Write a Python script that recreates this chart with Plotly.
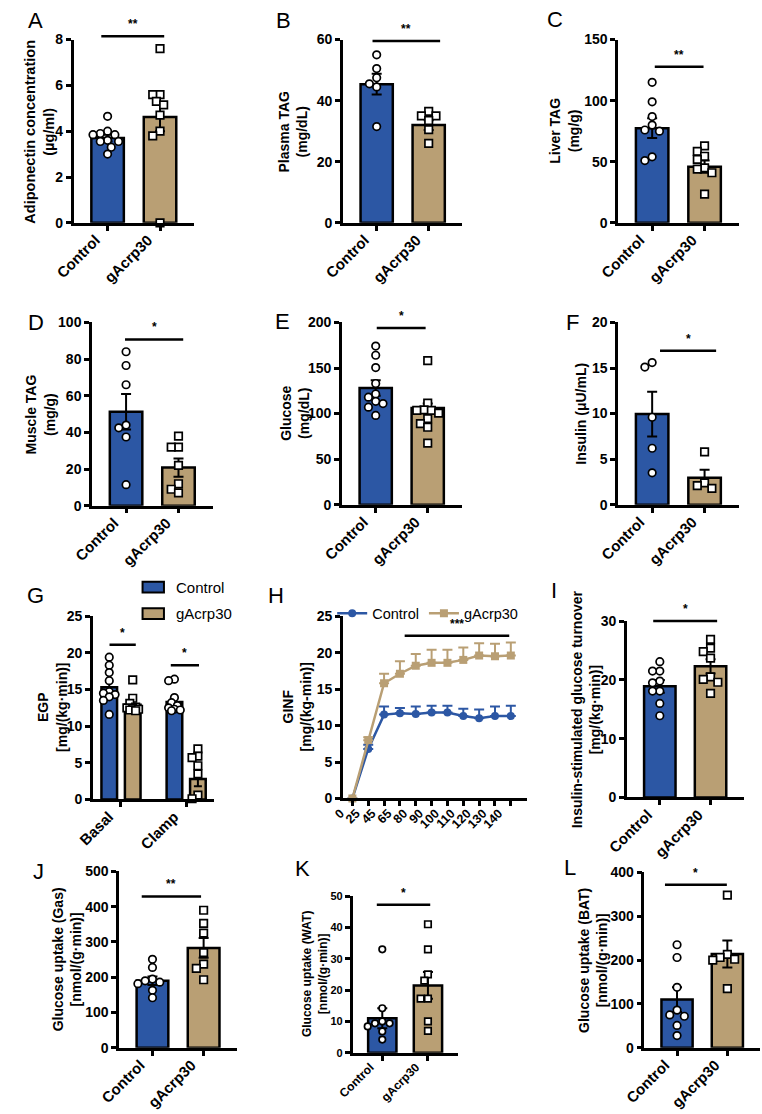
import plotly.graph_objects as go

W, H = 762, 1114
BLUE = "#2C57A4"
TAN = "#B99F74"
FONT = "Liberation Sans"

groups = ["Control", "gAcrp30"]

# A - adiponectin (ug/ml)
adipo_mean = [3.7, 4.62]
adipo_sem = [0.15, 0.62]
adipo_ctrl = [4.65, 4.0, 3.9, 3.85, 3.85, 3.6, 3.55, 3.55, 3.3, 3.0]
adipo_gacrp = [7.6, 5.6, 5.6, 5.3, 5.15, 4.7, 4.0, 3.8, 0.0]

# B - plasma TAG (mg/dL)
ptag_mean = [45.4, 32.0]
ptag_sem = [3.4, 1.6]
ptag_ctrl = [55, 50.5, 47.5, 45.5, 44.5, 31.5]
ptag_gacrp = [36.5, 35, 35, 33.5, 30.5, 26]

# C - liver TAG (mg/g)
ltag_mean = [77.5, 46.0]
ltag_sem = [8.0, 5.0]
ltag_ctrl = [115, 99, 87, 80, 76, 75, 54, 51]
ltag_gacrp = [63, 58.5, 54.5, 52, 45, 44, 41, 23.5]

# D - muscle TAG (mg/g)
mtag_mean = [51.3, 20.8]
mtag_sem = [9.7, 5.0]
mtag_ctrl = [84, 76.5, 66, 44, 42.5, 37.5, 11.5]
mtag_gacrp = [38, 32, 32, 22, 12, 9, 7]

# E - glucose (mg/dL)
glu_mean = [128.0, 106.0]
glu_sem = [8.5, 5.0]
glu_ctrl = [174, 164, 150.5, 133, 121.5, 118, 113.5, 111, 107, 98]
glu_gacrp = [158, 111.5, 104, 103.5, 103.5, 100.5, 94.5, 89, 85, 67.5]

# F - insulin (uU/mL)
ins_mean = [9.95, 2.95]
ins_sem = [2.45, 0.9]
ins_ctrl = [15.6, 15.1, 9.6, 6.2, 3.5]
ins_gacrp = [5.8, 2.4, 2.1, 1.8]

# G - EGP, basal / clamp
egp_phase = ["Basal", "Clamp"]
egp_mean_ctrl = [15.3, 13.3]
egp_sem_ctrl = [0.8, 0.5]
egp_mean_gacrp = [12.9, 2.8]
egp_sem_gacrp = [0.5, 1.0]
egp_basal_ctrl = [19.4, 18.3, 17.3, 16.2, 14.7, 14.5, 14.3, 14.0, 13.5, 11.6]
egp_basal_gacrp = [16.3, 13.8, 13.1, 12.6, 12.5, 12.4, 12.3, 12.2, 12.1]
egp_clamp_ctrl = [16.4, 16.2, 13.9, 13.2, 12.8, 12.5, 12.3, 12.2, 12.1]
egp_clamp_gacrp = [6.9, 5.9, 5.7, 4.6, 3.5, 0.6, 0.1]

# H - GINF time course
ginf_time = ["0", "25", "45", "65", "80", "90", "100", "110", "120", "130", "140"]
ginf_ctrl = [0, 6.8, 11.5, 11.7, 11.6, 11.8, 11.8, 11.3, 11.0, 11.3, 11.3]
ginf_ctrl_sem = [0, 0.55, 1.1, 0.7, 1.0, 0.9, 0.9, 1.0, 1.2, 1.3, 1.4]
ginf_gacrp = [0, 8.0, 15.8, 17.1, 18.2, 18.6, 18.6, 19.0, 19.6, 19.5, 19.6]
ginf_gacrp_sem = [0, 0.4, 1.3, 1.7, 1.6, 1.8, 1.8, 1.7, 1.7, 1.7, 1.8]

# I - insulin-stimulated glucose turnover
turn_mean = [18.9, 22.3]
turn_sem = [1.1, 1.2]
turn_ctrl = [23.1, 21.5, 21.5, 19.8, 19.5, 18.1, 18.1, 16.0, 13.9]
turn_gacrp = [26.9, 25.4, 24.8, 23.7, 20.5, 20.1, 19.6, 17.7]

# J - glucose uptake gastrocnemius
gas_mean = [190, 283]
gas_sem = [12, 28]
gas_ctrl = [251, 228, 195, 190, 186, 182, 163, 142]
gas_gacrp = [390, 353, 325, 270, 237, 225, 193]

# K - glucose uptake WAT
wat_mean = [11.0, 21.5]
wat_sem = [3.2, 4.3]
wat_ctrl = [33, 14.2, 10, 9.4, 9.4, 8.4, 6.8, 4.2]
wat_gacrp = [41, 33, 25, 23, 17.3, 17.3, 10, 7]

# L - glucose uptake BAT
bat_mean = [110, 214]
bat_sem = [28, 31]
bat_ctrl = [235, 206, 138, 86, 75, 72, 51, 28]
bat_gacrp = [348, 213, 206, 202, 200, 135]


def ax_names(n):
    s = "" if n == 1 else str(n)
    return "x" + s, "y" + s, "xaxis" + s, "yaxis" + s


def px_per_unit(p):
    x0, x1, yt, yb = p["box"]
    return (x1 - x0) / (p["xr"][1] - p["xr"][0]), (yb - yt) / (p["yr"][1] - p["yr"][0])


def to_paper(p, x, y):
    x0, x1, yt, yb = p["box"]
    fx = (x - p["xr"][0]) / (p["xr"][1] - p["xr"][0])
    fy = (y - p["yr"][0]) / (p["yr"][1] - p["yr"][0])
    return (x0 + fx * (x1 - x0)) / W, 1 - (yb - fy * (yb - yt)) / H


def swarm(values, center, p, diam=7.5, maxoff=20.0):
    # simple beeswarm: spread points sideways when they would overlap,
    # but never further than maxoff px from the centre (then accept overlap)
    kx, ky = px_per_unit(p)
    step = diam / 2
    offs = [0.0]
    k = 1
    while k * step <= maxoff:
        offs += [-k * step, k * step]
        k += 1
    placed = []
    xs = [center] * len(values)
    for i in sorted(range(len(values)), key=lambda j: -values[j]):
        y = values[i] * ky

        def gap(c):
            return min([((c - a) ** 2 + (y - b) ** 2) ** 0.5 for a, b in placed] or [1e9])

        ok = [c for c in offs if gap(c) >= diam * 0.97]
        best = ok[0] if ok else max(offs, key=gap)
        placed.append((best, y))
        xs[i] = center + best / kx
    return xs


BAR_XR = [-0.65, 1.65]
panels = [
    dict(key="A", box=(54, 178, 32, 218), yr=[0, 8], dtick=2, mean=adipo_mean, sem=adipo_sem,
         pts=(adipo_ctrl, adipo_gacrp), title="Adiponectin concentration<br>(µg/ml)", toff=35,
         sig=[(-0.12, 1.08, 8.14, "**")], letter=(15, 13), title_sz=14.5),
    dict(key="B", box=(331, 454, 32, 218), yr=[0, 60], dtick=20, mean=ptag_mean, sem=ptag_sem,
         pts=(ptag_ctrl, ptag_gacrp), title="Plasma TAG<br>(mg/dL)", toff=51,
         sig=[(-0.08, 1.22, 59.5, "**")], letter=(270, 13)),
    dict(key="C", box=(614, 738, 32, 218), yr=[0, 150], dtick=50, mean=ltag_mean, sem=ltag_sem,
         pts=(ltag_ctrl, ltag_gacrp), title="Liver TAG<br>(mg/g)", toff=55,
         sig=[(0.05, 0.98, 127.7, "**")], letter=(549, 12)),
    dict(key="D", box=(73, 197, 319, 505), yr=[0, 100], dtick=20, mean=mtag_mean, sem=mtag_sem,
         pts=(mtag_ctrl, mtag_gacrp), title="Muscle TAG<br>(mg/g)", toff=53,
         sig=[(-0.02, 1.09, 90.7, "*")], letter=(15, 319)),
    dict(key="E", box=(330, 453, 319, 504), yr=[0, 200], dtick=50, mean=glu_mean, sem=glu_sem,
         pts=(glu_ctrl, glu_gacrp), title="Glucose<br>(mg/dL)", toff=49,
         sig=[(0.02, 0.96, 193.9, "*")], letter=(269, 318)),
    dict(key="F", box=(614, 738, 319, 504), yr=[0, 20], dtick=5, mean=ins_mean, sem=ins_sem,
         pts=(ins_ctrl, ins_gacrp), title="Insulin (μU/mL)", toff=39,
         sig=[(0.15, 1.22, 16.9, "*")], letter=(567, 319)),
    dict(key="G", box=(74, 198, 617, 803), yr=[0, 25], dtick=5, xr=[-0.43, 1.42],
         title="EGP<br>[mg/(kg·min)]", toff=42,
         sig=[(-0.176, 0.227, 21.1, "*"), (0.764, 1.197, 18.3, "*")], letter=(15, 596)),
    dict(key="H", box=(331, 520, 617, 802), yr=[0, 25], dtick=5, xr=[-0.6, 11.0],
         title="GINF<br>[mg/(kg-min)]", toff=47,
         sig=[(3.3, 9.9, 22.3, "***")], letter=(262, 596)),
    dict(key="I", box=(623, 743, 622, 801), yr=[0, 30], dtick=10, mean=turn_mean, sem=turn_sem,
         pts=(turn_ctrl, turn_gacrp), title="Insulin-stimulated glucose turnover<br>[mg/(kg·min)]",
         toff=42, sig=[(-0.13, 1.13, 30, "*")], letter=(548, 591)),
    dict(key="J", box=(101, 222, 876, 1055), yr=[0, 500], dtick=100, mean=gas_mean, sem=gas_sem,
         pts=(gas_ctrl, gas_gacrp), title="Glucose uptake (Gas)<br>[nmol/(g·min)]", toff=54,
         sig=[(-0.21, 0.95, 429, "**")], letter=(18, 876)),
    dict(key="K", box=(341, 449, 901, 1060), yr=[0, 50], dtick=10, mean=wat_mean, sem=wat_sem,
         pts=(wat_ctrl, wat_gacrp), title="Glucose uptake (WAT)<br>[nmol/(g·min)]", toff=38,
         sig=[(-0.12, 1.05, 47.2, "*")], letter=(289, 873), small=True),
    dict(key="L", box=(641, 760, 877, 1055), yr=[0, 400], dtick=100, mean=bat_mean, sem=bat_sem,
         pts=(bat_ctrl, bat_gacrp), title="Glucose uptake (BAT)<br>[nmol/(g·min)]", toff=53,
         sig=[(-0.24, 0.99, 371.6, "*")], letter=(565, 872)),
]

fig = go.Figure()
layout = {}
shapes = []
annotations = []

axis_style = dict(showline=True, linewidth=2.5, linecolor="black", ticks="outside", ticklen=5,
                  tickwidth=2.5, tickcolor="black", showgrid=False, zeroline=False, fixedrange=True)


def point_trace(xs, ys, symbol, xa, ya, size=7.5):
    return go.Scatter(x=xs, y=ys, mode="markers", xaxis=xa, yaxis=ya, showlegend=False,
                      cliponaxis=False,
                      marker=dict(symbol=symbol, size=size, color="white",
                                  line=dict(color="black", width=1.7)))


for n, p in enumerate(panels, start=1):
    p.setdefault("xr", BAR_XR)
    xa, ya, xkey, ykey = ax_names(n)
    x0, x1, yt, yb = p["box"]
    small = p.get("small", False)
    tick_sz = 11 if small else 14
    lab_sz = 12 if small else 15
    title_sz = p.get("title_sz", 12 if small else 14)

    if p["key"] == "G":
        ctrl_x = [i - 0.18 for i in range(len(egp_phase))]
        gac_x = [i + 0.18 for i in range(len(egp_phase))]
        for xs, mean, sem, col in [(ctrl_x, egp_mean_ctrl, egp_sem_ctrl, BLUE),
                                   (gac_x, egp_mean_gacrp, egp_sem_gacrp, TAN)]:
            fig.add_trace(go.Bar(x=xs, y=mean, width=0.24, xaxis=xa, yaxis=ya, showlegend=False,
                                 marker=dict(color=col, line=dict(color="black", width=2.5)),
                                 error_y=dict(type="data", array=sem, color="black",
                                              thickness=2, width=4)))
        for pts, cx, sym in [(egp_basal_ctrl, ctrl_x[0], "circle"),
                             (egp_basal_gacrp, gac_x[0], "square"),
                             (egp_clamp_ctrl, ctrl_x[1], "circle"),
                             (egp_clamp_gacrp, gac_x[1], "square")]:
            fig.add_trace(point_trace(swarm(pts, cx, p, diam=6, maxoff=6), pts, sym, xa, ya))
        tickvals, ticktext = list(range(len(egp_phase))), egp_phase
    elif p["key"] == "H":
        t = list(range(len(ginf_time)))
        for name, vals, err, col, sym in [("Control", ginf_ctrl, ginf_ctrl_sem, BLUE, "circle"),
                                          ("gAcrp30", ginf_gacrp, ginf_gacrp_sem, TAN, "square")]:
            fig.add_trace(go.Scatter(
                x=t, y=vals, name=name, mode="lines+markers", xaxis=xa, yaxis=ya,
                legend="legend2", cliponaxis=False,
                line=dict(color=col, width=2.5), marker=dict(symbol=sym, size=8, color=col),
                error_y=dict(type="data", symmetric=False, array=err, arrayminus=[0] * len(err),
                             color=col, thickness=2, width=5)))
        tickvals, ticktext = t, ginf_time
        lab_sz = 12.5
    else:
        fig.add_trace(go.Bar(x=[0, 1], y=p["mean"], width=0.62, xaxis=xa, yaxis=ya, showlegend=False,
                             marker=dict(color=[BLUE, TAN], line=dict(color="black", width=2.5)),
                             error_y=dict(type="data", array=p["sem"], color="black",
                                          thickness=2, width=5)))
        msz = 6.5 if small else 7.5
        fig.add_trace(point_trace(swarm(p["pts"][0], 0, p), p["pts"][0], "circle", xa, ya, msz))
        fig.add_trace(point_trace(swarm(p["pts"][1], 1, p), p["pts"][1], "square", xa, ya, msz))
        tickvals, ticktext = [0, 1], groups

    layout[xkey] = dict(axis_style, domain=[x0 / W, x1 / W], range=p["xr"], anchor=ya,
                        tickmode="array", tickvals=tickvals, ticktext=ticktext, tickangle=-45,
                        ticklabelshift=-12, ticklabelstandoff=-5,
                        tickfont=dict(family=FONT, size=lab_sz, color="black", weight="bold"))
    layout[ykey] = dict(axis_style, domain=[1 - yb / H, 1 - yt / H], range=p["yr"], anchor=xa,
                        dtick=p["dtick"], tick0=0,
                        tickfont=dict(family=FONT, size=tick_sz, color="black", weight="bold"))

    # y axis title
    annotations.append(dict(x=(x0 - p["toff"]) / W, y=1 - (yt + yb) / 2 / H, xref="paper",
                            yref="paper", text=p["title"], textangle=-90, showarrow=False,
                            xanchor="center", yanchor="middle",
                            font=dict(family=FONT, size=title_sz, color="black", weight="bold")))
    # panel letter
    annotations.append(dict(x=p["letter"][0] / W, y=1 - p["letter"][1] / H, xref="paper",
                            yref="paper", text=p["key"], showarrow=False, xanchor="center",
                            yanchor="middle", font=dict(family=FONT, size=22, color="black")))
    # significance bars
    for sx0, sx1, sy, star in p["sig"]:
        px0, py = to_paper(p, sx0, sy)
        px1, _ = to_paper(p, sx1, sy)
        shapes.append(dict(type="line", xref="paper", yref="paper", x0=px0, x1=px1, y0=py, y1=py,
                           line=dict(color="black", width=2.5)))
        annotations.append(dict(x=(px0 + px1) / 2, y=py, xref="paper", yref="paper", text=star,
                                showarrow=False, xanchor="center", yanchor="bottom", yshift=3,
                                font=dict(family=FONT, size=12, color="black", weight="bold")))

# legend for panel G (bar keys)
for i, (name, col) in enumerate(zip(groups, [BLUE, TAN])):
    top = 582 + i * 27
    shapes.append(dict(type="rect", xref="paper", yref="paper", x0=125 / W, x1=147 / W,
                       y0=1 - (top + 11) / H, y1=1 - top / H, fillcolor=col,
                       line=dict(color="black", width=2)))
    annotations.append(dict(x=157 / W, y=1 - (top + 5.5) / H, xref="paper", yref="paper",
                            text=name, showarrow=False, xanchor="left", yanchor="middle",
                            font=dict(family=FONT, size=15, color="black")))

fig.update_layout(
    width=W, height=H, margin=dict(l=0, r=0, t=0, b=0),
    paper_bgcolor="white", plot_bgcolor="rgba(0,0,0,0)",
    barmode="overlay", showlegend=True,
    legend2=dict(orientation="h", x=320 / W, y=1 - 598 / H, xanchor="left", yanchor="top",
                 bgcolor="rgba(0,0,0,0)", font=dict(family=FONT, size=14.5, color="black"),
                 itemwidth=30),
    shapes=shapes, annotations=annotations, **layout)

# the page body has a default 8px margin; drop it so the figure sits at the window corner
fig.write_html("out.html", config={"displayModeBar": False},
               post_script="document.body.style.margin = '0';")
